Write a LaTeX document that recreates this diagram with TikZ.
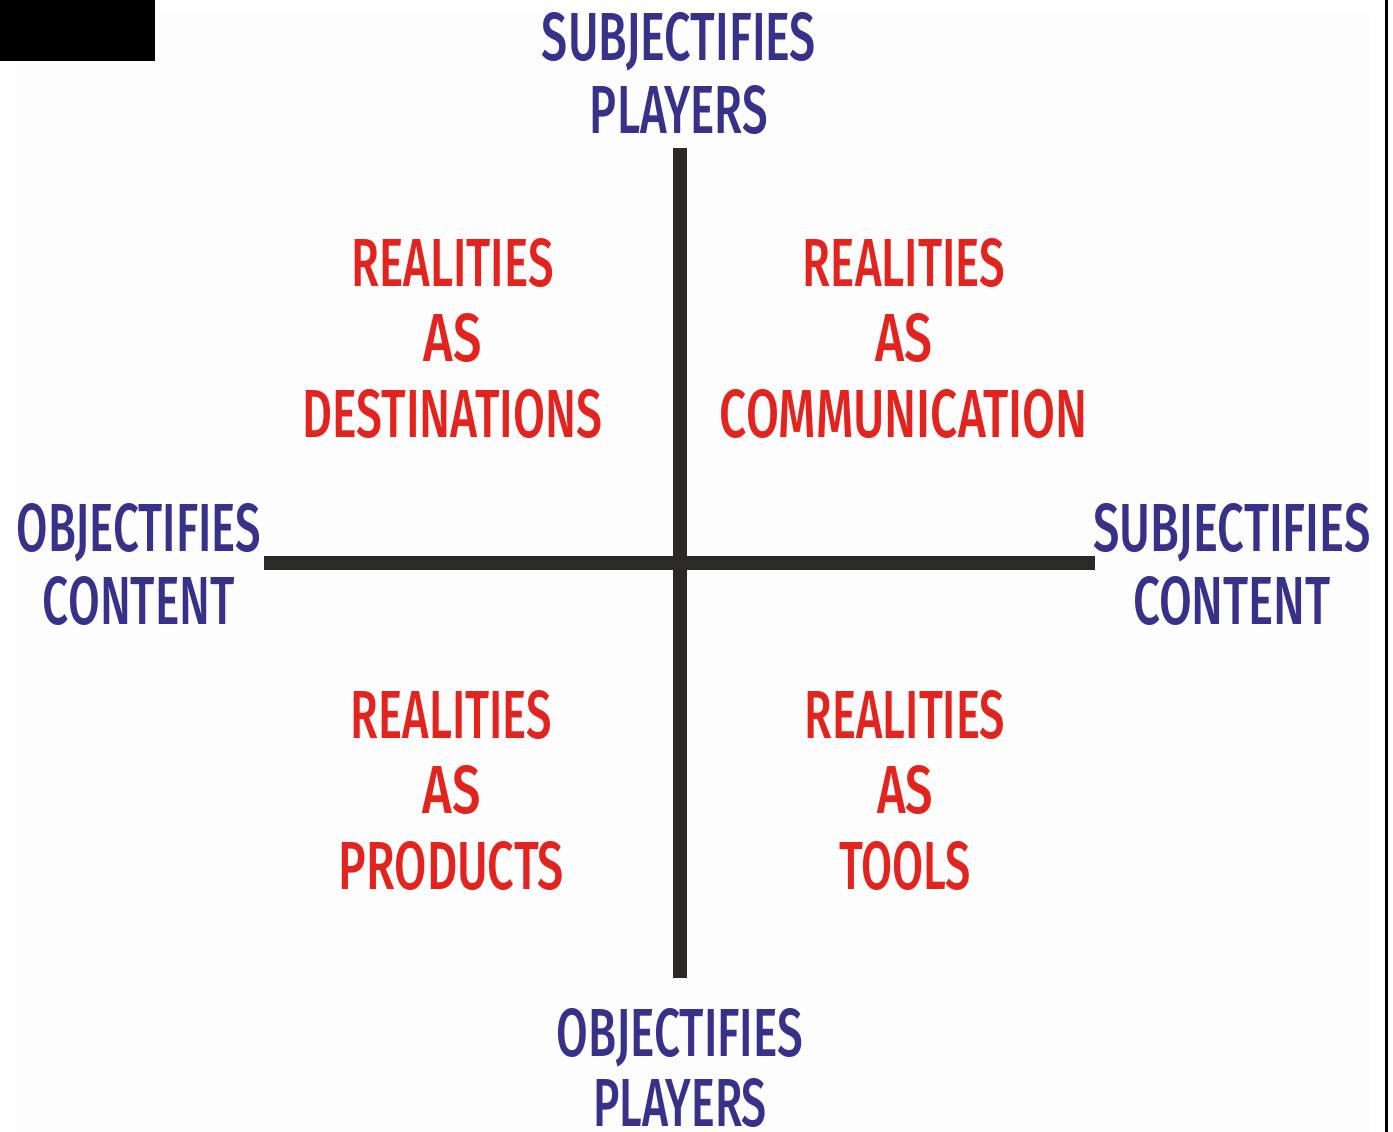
\documentclass[tikz,border=0pt]{standalone}
\usepackage{fontspec}
\setmainfont{Fira Sans}[BoldFont={Fira Sans Medium}]
\usepackage{graphicx}

\definecolor{axisgray}{HTML}{2B2A29}
\definecolor{inkblue}{HTML}{37318A}
\definecolor{inkred}{HTML}{E3231D}
\definecolor{panel}{HTML}{FDFDFD}

% one hand-lettered line: width #1 (pt), capital height 48pt
\newcommand\capline[2]{\resizebox{#1pt}{48pt}{\bfseries #2}}

\tikzset{
  axis/.style={draw=axisgray, line width=14pt, line cap=butt},
  poletext/.style={text=inkblue, anchor=north, inner sep=0pt, align=center,
                   font=\fontsize{20pt}{73pt}\selectfont},
  quadtext/.style={text=inkred, anchor=north, inner sep=0pt, align=center,
                   font=\fontsize{20pt}{75.5pt}\selectfont},
}

\begin{document}
\begin{tikzpicture}[x=1pt, y=-1pt]
  \useasboundingbox (0,0) rectangle (1393,1132);
  \fill[white] (0,0) rectangle (1393,1132);
  \fill[panel] (16,10) rectangle (1370,1132);
  \fill[black] (0,0) rectangle (155,61);
  \fill[black] (1385,0) rectangle (1388,1132);

  % axis end points
  \coordinate (ytop) at (679.5,148);
  \coordinate (ybot) at (679.5,978);
  \coordinate (xleft) at (264,562.5);
  \coordinate (xright) at (1095,562.5);

  \draw[axis] (ytop) -- (ybot);
  \draw[axis] (xleft) -- (xright);

  % pole labels
  \node[poletext] (north) at (679,12) {\capline{274}{SUBJECTIFIES}\\\capline{178}{PLAYERS}};
  \node[poletext, font=\fontsize{20pt}{70pt}\selectfont] (south) at (680,1008) {\capline{246}{OBJECTIFIES}\\\capline{174}{PLAYERS}};
  \node[poletext] (west) at (139,503) {\capline{244}{OBJECTIFIES}\\\capline{192}{CONTENT}};
  \node[poletext] (east) at (1232,503) {\capline{277}{SUBJECTIFIES}\\\capline{198}{CONTENT}};

  % quadrant labels
  \node[quadtext] (qdest) at (452.5,238) {\capline{202}{REALITIES}\\\capline{58}{AS}\\\capline{300}{DESTINATIONS}};
  \node[quadtext] (qcomm) at (904,238) {\capline{202}{REALITIES}\\\capline{57}{AS}\\\capline{368}{COMMUNICATION}};
  \node[quadtext] (qprod) at (451.5,690) {\capline{201}{REALITIES}\\\capline{58}{AS}\\\capline{225}{PRODUCTS}};
  \node[quadtext] (qtool) at (905,690) {\capline{200}{REALITIES}\\\capline{56}{AS}\\\capline{132}{TOOLS}};
\end{tikzpicture}
\end{document}
